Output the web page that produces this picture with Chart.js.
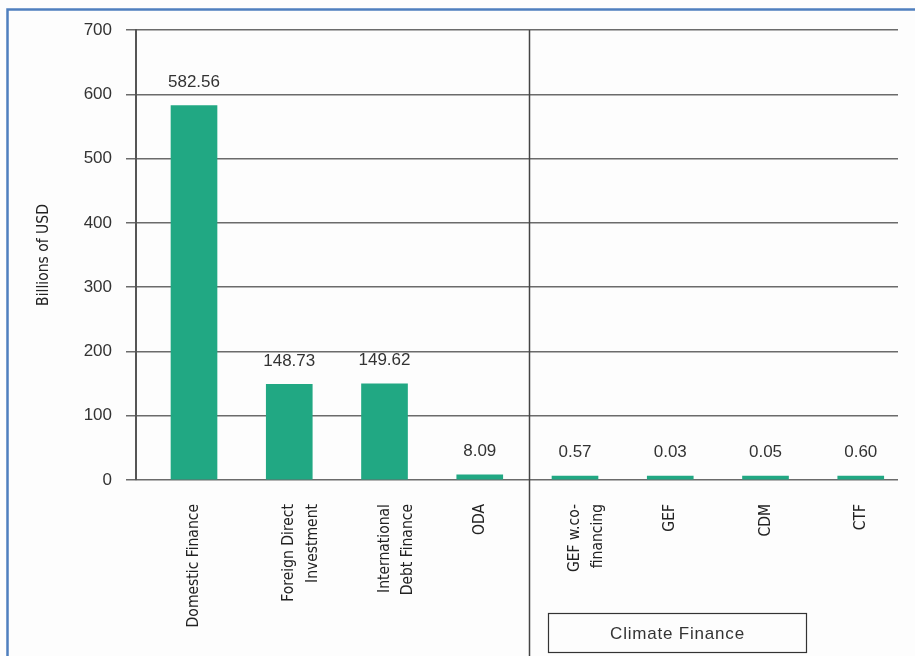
<!DOCTYPE html>
<html><head><meta charset="utf-8">
<script src="https://cdn.jsdelivr.net/npm/chart.js@4.4.1/dist/chart.umd.min.js"></script>
<style>html,body{margin:0;padding:0;background:#fdfdfd;}canvas{display:block;}</style>
</head><body>
<canvas id="c" width="915" height="656" style="width:915px;height:656px"></canvas>
<script>
// ---- data ----
const categories = [
  ["Domestic Finance"],
  ["Foreign Direct", "Investment"],
  ["International", "Debt Finance"],
  ["ODA"],
  ["GEF w.co-", "financing"],
  ["GEF"],
  ["CDM"],
  ["CTF"]
];
const values = [582.56, 148.73, 149.62, 8.09, 0.57, 0.03, 0.05, 0.60];
const valueLabels = ["582.56", "148.73", "149.62", "8.09", "0.57", "0.03", "0.05", "0.60"];
const yTicks = [0, 100, 200, 300, 400, 500, 600, 700];
const yTitle = "Billions of USD";
const groupLabel = "Climate Finance";

const NARROW = "'Liberation Sans Narrow','DejaVu Sans Condensed','Roboto Condensed',sans-serif";
const SANS = "'Liberation Sans',Arial,sans-serif";
const BAR = '#21a883';

const points = values.map((v, i) => ({x: i, y: v}));

const decor = {
  id: 'decor',
  beforeDraw(chart) {
    const ctx = chart.ctx;
    ctx.save();
    ctx.fillStyle = '#fdfdfd';
    ctx.fillRect(0, 0, chart.width, chart.height);
    ctx.strokeStyle = '#4f7fbe';
    ctx.lineWidth = 2.5;
    ctx.beginPath();
    ctx.moveTo(7.5, chart.height);
    ctx.lineTo(7.5, 9.5);
    ctx.lineTo(chart.width, 9.5);
    ctx.stroke();
    ctx.restore();
  },
  afterDatasetsDraw(chart) {
    const ctx = chart.ctx;
    const xs = chart.scales.x;
    const area = chart.chartArea;
    ctx.save();
    // value labels
    ctx.font = '17px ' + SANS;
    ctx.fillStyle = '#333';
    ctx.textAlign = 'center';
    ctx.textBaseline = 'bottom';
    chart.getDatasetMeta(0).data.forEach((bar, i) => {
      ctx.fillText(valueLabels[i], bar.x, Math.min(bar.y, area.bottom - 4) - 15);
    });
    // divider between groups
    const dx = Math.round(xs.getPixelForValue(3.5)) + 2.5;
    ctx.strokeStyle = '#444';
    ctx.lineWidth = 1.5;
    ctx.beginPath();
    ctx.moveTo(dx, area.top);
    ctx.lineTo(dx, chart.height);
    ctx.stroke();
    // group box
    const bl = Math.round(xs.getPixelForValue(3.72)) + 0.5;
    const br = Math.round(xs.getPixelForValue(6.43)) + 0.5;
    const bt = 613.5, bb = 652.5;
    ctx.strokeStyle = '#333';
    ctx.lineWidth = 1.2;
    ctx.strokeRect(bl, bt, br - bl, bb - bt);
    ctx.font = '17px ' + SANS;
    ctx.letterSpacing = '0.8px';
    ctx.fillStyle = '#333';
    ctx.textBaseline = 'middle';
    ctx.fillText(groupLabel, (bl + br) / 2, (bt + bb) / 2 + 1);
    ctx.restore();
  }
};

new Chart(document.getElementById('c'), {
  type: 'bar',
  data: {
    datasets: [{
      data: points,
      backgroundColor: BAR,
      borderWidth: 0,
      barThickness: 46,
      minBarLength: 4
    }]
  },
  options: {
    responsive: false,
    animation: false,
    events: [],
    layout: {padding: {left: 10, right: 17, top: 30, bottom: 0}},
    plugins: {legend: {display: false}, tooltip: {enabled: false}},
    scales: {
      x: {
        type: 'linear',
        offset: false,
        min: -0.609,
        max: 7.391,
        grid: {display: false, offset: false},
        border: {display: false},
        afterBuildTicks: s => { s.ticks = categories.map((_, i) => ({value: i})); },
        afterFit: s => { s.height = 176; },
        ticks: {
          autoSkip: false,
          minRotation: 90,
          maxRotation: 90,
          padding: 16,
          color: '#222',
          font: {family: NARROW, size: 15.5, lineHeight: 1.5},
          callback: v => categories[v]
        }
      },
      y: {
        min: 0,
        max: 700,
        afterBuildTicks: s => { s.ticks = yTicks.map(v => ({value: v})); },
        afterFit: s => { s.width = 126; },
        grid: {color: '#6b6b6b', lineWidth: 1.5, tickLength: 10, drawTicks: true},
        border: {display: true, color: '#555', width: 2},
        ticks: {
          padding: 14,
          color: '#333',
          font: {family: SANS, size: 17}
        },
        title: {
          display: true,
          text: yTitle,
          color: '#222',
          font: {family: NARROW, size: 15.5, lineHeight: 1.2},
          padding: {top: 25, bottom: 0}
        }
      }
    }
  },
  plugins: [decor]
});
</script>
</body></html>
